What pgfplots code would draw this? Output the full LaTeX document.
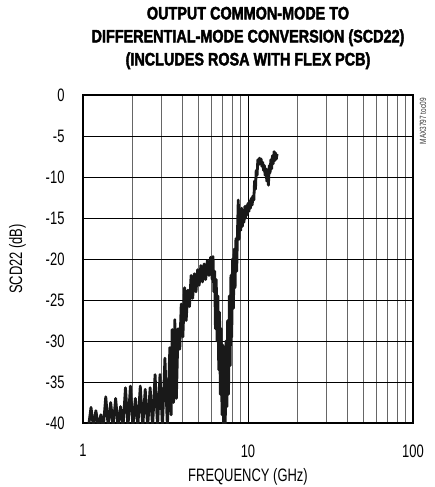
\documentclass[border=0pt]{standalone}
\usepackage{fontspec}
\setmainfont{Liberation Sans}[FakeStretch=0.72]
\newfontfamily\titlefont{Liberation Sans}[FakeStretch=0.8,FakeBold=2.2]
\usepackage{pgfplots}
\usepackage{pgfplotstable}
\pgfplotsset{compat=1.18}

\pgfplotstableread{
f db
1.080 -40.5
1.118 -38.1
1.157 -40.5
1.197 -38.5
1.239 -40.5
1.283 -39.0
1.328 -40.5
1.374 -36.8
1.422 -40.5
1.472 -37.5
1.523 -40.5
1.577 -37.0
1.632 -40.5
1.689 -38.0
1.748 -40.5
1.809 -35.7
1.873 -40.5
1.938 -35.5
2.006 -40.5
2.076 -37.0
2.149 -40.5
2.224 -35.5
2.302 -40.5
2.383 -35.9
2.466 -40.5
2.552 -35.7
2.641 -40.5
2.734 -34.1
2.830 -40.5
2.929 -34.1
3.031 -40.5
3.137 -32.1
3.247 -40.5
3.361 -30.8
3.420 -39.0
3.470 -28.6
3.540 -37.5
3.600 -27.4
3.68 -37.0
3.77 -28.5
3.86 -31.0
3.94 -25.5
4.03 -29.5
4.13 -23.5
4.22 -27.5
4.32 -23.8
4.42 -25.8
4.52 -22.0
4.62 -24.8
4.73 -21.8
4.84 -24.0
4.95 -21.3
5.06 -23.2
5.18 -20.8
5.30 -22.8
5.42 -20.6
5.54 -22.5
5.67 -20.2
5.80 -22.0
5.93 -19.8
6.07 -22.5
6.14 -19.7
6.21 -24.0
6.28 -21.5
6.35 -28.5
6.42 -22.5
6.50 -30.0
6.57 -24.5
6.65 -33.5
6.72 -26.5
6.80 -36.5
6.88 -28.5
6.96 -39.0
7.04 -30.5
7.12 -40.5
7.20 -31.5
7.28 -40.5
7.36 -30.0
7.45 -38.0
7.53 -27.5
7.62 -36.5
7.71 -24.5
7.80 -33.0
7.88 -22.0
7.97 -29.5
8.06 -20.0
8.16 -26.0
8.25 -18.8
8.35 -23.5
8.45 -17.5
8.54 -21.5
8.64 -16.5
8.73 -12.8
8.83 -17.6
8.93 -14.5
9.04 -16.5
9.14 -13.8
9.25 -16.0
9.35 -14.2
9.46 -15.5
9.56 -13.6
9.67 -15.0
9.78 -13.5
9.90 -14.6
10.01 -13.2
10.12 -14.2
10.24 -12.9
10.35 -13.8
10.47 -12.6
10.60 -13.4
10.71 -12.3
10.85 -12.8
10.96 -10.5
11.10 -11.5
11.21 -9.2
11.35 -9.8
11.47 -7.9
11.60 -8.5
11.73 -7.7
11.87 -8.3
12.00 -7.8
12.14 -8.7
12.28 -8.2
12.42 -9.2
12.56 -8.6
12.70 -9.8
12.85 -9.0
13.00 -10.5
13.14 -9.5
13.30 -11.0
13.45 -8.6
13.60 -9.5
13.76 -7.9
13.90 -9.0
14.07 -7.4
14.20 -8.4
14.40 -6.9
14.55 -8.0
14.73 -7.1
14.85 -7.8
15.00 -7.2
}\scdtable

\begin{document}
\begin{tikzpicture}
\begin{axis}[
  name=ax,
  scale only axis,
  width=330pt, height=328pt,
  xmode=log,
  xmin=1, xmax=100, ymin=-40, ymax=0,
  xtick={1,10,100}, xticklabels={1,10,100},
  minor xtick={2,3,4,5,6,7,8,9,20,30,40,50,60,70,80,90},
  ytick={-40,-35,-30,-25,-20,-15,-10,-5,0},
  major tick length=0pt, minor tick length=0pt,
  grid=both,
  major grid style={black, line width=0.7pt},
  minor grid style={black!60, line width=0.7pt},
  axis line style={line width=1.6pt},
  tick label style={font=\fontsize{18}{20}\selectfont},
  /pgf/number format/assume math mode=true,
  yticklabel style={xshift=-15pt},
  xticklabel style={yshift=-18pt},
]
\addplot[black!90, line width=2.8pt, line join=round, mark=none] table[x=f, y=db] {\scdtable};
\end{axis}
\node[align=center, font=\titlefont\bfseries\fontsize{18}{23}\selectfont] at ([yshift=57pt]ax.north) {OUTPUT COMMON-MODE TO\\DIFFERENTIAL-MODE CONVERSION (SCD22)\\(INCLUDES ROSA WITH FLEX PCB)};
\node[rotate=90, font=\fontsize{18}{20}\selectfont] at ([xshift=-65.5pt]ax.west) {SCD22 (dB)};
\node[font=\fontsize{18}{20}\selectfont] at ([yshift=-54pt]ax.south) {FREQUENCY (GHz)};
\node[rotate=90, anchor=east, font=\fontsize{9}{10}\selectfont, text=black!80, inner sep=0pt] at ([xshift=10pt,yshift=-3pt]ax.north east) {MAX3797 toc09};
\pgfresetboundingbox
\path[use as bounding box] ([shift={(-83pt,-64pt)}]ax.south west) rectangle ([shift={(21pt,95pt)}]ax.north east);
\end{tikzpicture}
\end{document}
